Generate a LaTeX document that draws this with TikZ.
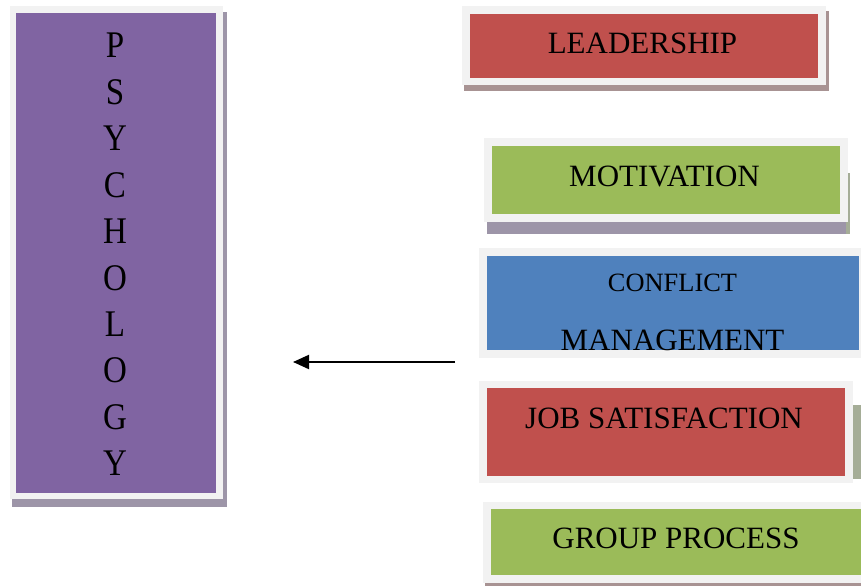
\documentclass[tikz,border=0pt]{standalone}
\usepackage{fontspec}
\setmainfont{Liberation Serif}
\usetikzlibrary{arrows.meta}
\definecolor{psypurple}{HTML}{8064A2}
\definecolor{boxred}{HTML}{C0504D}
\definecolor{boxgreen}{HTML}{9BBB59}
\definecolor{boxblue}{HTML}{4F81BD}
\definecolor{framegray}{HTML}{F2F2F2}
\definecolor{shadowpurple}{HTML}{9D95A8}
\definecolor{shadowred}{HTML}{A89393}
\definecolor{shadowgreen}{HTML}{A5AD97}
\begin{document}
\begin{tikzpicture}[x=1pt,y=-1pt,
  framebox/.style={fill=framegray,draw=none,inner sep=0,anchor=north west},
  colorbox/.style={draw=none,inner sep=0,anchor=north west},
  lbl/.style={inner sep=0,anchor=base,text=black,font=\fontsize{31}{31}\selectfont},
  smalllbl/.style={inner sep=0,anchor=base,text=black,font=\fontsize{26.4}{26.4}\selectfont},
  psyl/.style={inner sep=0,anchor=base,text=black,font=\fontsize{33}{33}\selectfont},
  arrowline/.style={line width=2pt,-{Triangle[length=16pt,width=14pt]}}]
\useasboundingbox (0,0) rectangle (861,586);

% PSYCHOLOGY
\fill[shadowpurple] (12,12) rectangle (227,507);
\node[framebox,minimum width=213pt,minimum height=493pt] (psyframe) at (10,6) {};
\node[colorbox,fill=psypurple,minimum width=200pt,minimum height=480pt] (psybox) at (16,13) {};
\foreach \l [count=\i from 0] in {P,S,Y,C,H,O,L,O,G,Y}
  \node[psyl] (psy\i) at (115,{58+46.4*\i}) {\scalebox{1}[1.14]{\l}};

% LEADERSHIP
\fill[shadowred] (464,11) rectangle (829,91);
\node[framebox,minimum width=364pt,minimum height=79pt] (leadframe) at (462,6) {};
\node[colorbox,fill=boxred,minimum width=348pt,minimum height=64pt] (leadbox) at (470,14) {};
\node[lbl] (leadtext) at (642.5,54) {LEADERSHIP};

% MOTIVATION
\fill[shadowpurple] (487,173) rectangle (850,234);
\fill[shadowgreen] (846,173) rectangle (850,234);
\node[framebox,minimum width=364pt,minimum height=84pt] (motframe) at (484,138) {};
\node[colorbox,fill=boxgreen,minimum width=348pt,minimum height=68pt] (motbox) at (492,146) {};
\node[lbl] (mottext) at (664.5,186.7) {MOTIVATION};

% CONFLICT MANAGEMENT
\node[framebox,minimum width=382pt,minimum height=110pt] (confframe) at (479,248) {};
\node[colorbox,fill=boxblue,minimum width=372pt,minimum height=94pt] (confbox) at (487,256) {};
\node[smalllbl] (conftext) at (672.5,291.7) {CONFLICT};
\node[lbl] (mgmttext) at (672.5,350) {MANAGEMENT};

% JOB SATISFACTION
\fill[shadowgreen] (853,405) rectangle (861,479);
\node[framebox,minimum width=374pt,minimum height=102pt] (jobframe) at (479,381) {};
\node[colorbox,fill=boxred,minimum width=358pt,minimum height=88pt] (jobbox) at (487,388) {};
\node[lbl] (jobtext) at (664,428) {JOB SATISFACTION};

% GROUP PROCESS
\fill[shadowred] (485,583) rectangle (861,586);
\node[framebox,minimum width=378pt,minimum height=81pt] (grpframe) at (483,502) {};
\node[colorbox,fill=boxgreen,minimum width=370pt,minimum height=66pt] (grpbox) at (491,509) {};
\node[lbl] (grptext) at (676,548) {GROUP PROCESS};

% arrow
\coordinate (arrowtail) at (455,362);
\coordinate (arrowtip) at (293,362);
\draw[arrowline] (arrowtail) -- (arrowtip);
\end{tikzpicture}
\end{document}
